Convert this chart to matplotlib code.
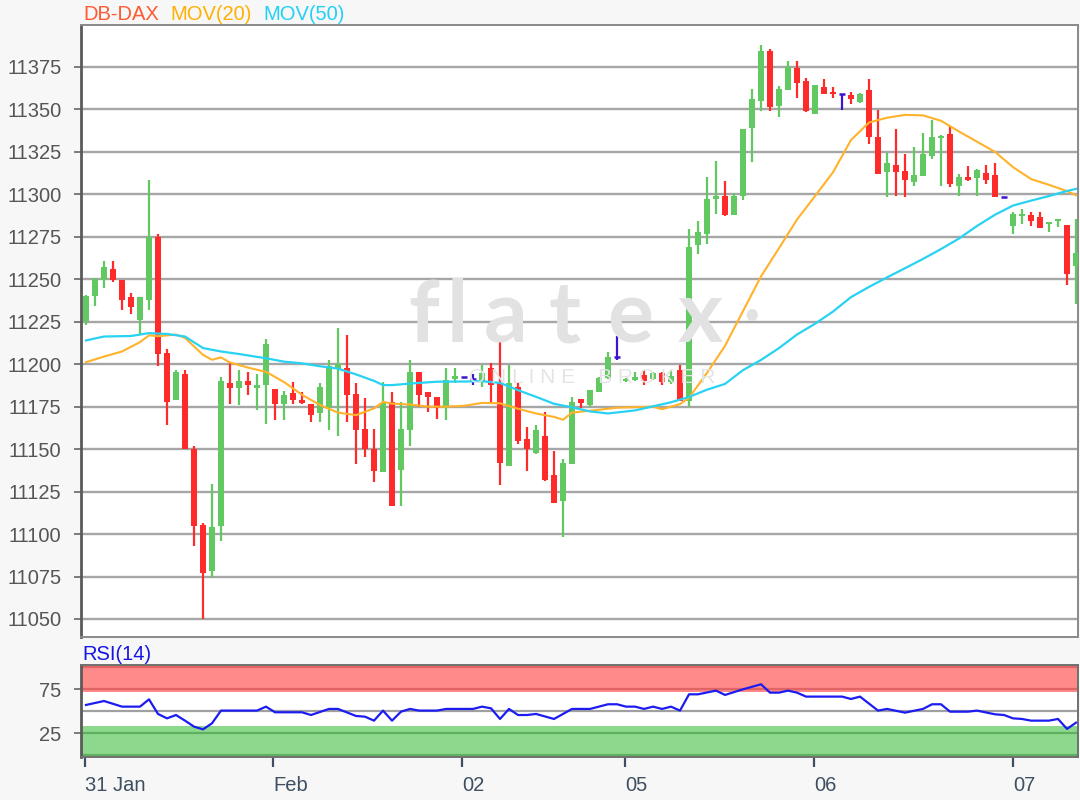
import matplotlib
matplotlib.use("Agg")
import matplotlib.pyplot as plt
import numpy as np

# ---------------- data ----------------
opens = [11225.5, 11240, 11249.5, 11256.3, 11249.5, 11239.6, 11226, 11238, 11275, 11206.6,
         11179, 11194, 11150, 11105.5, 11078.3, 11104.9, 11189, 11186, 11190, 11186,
         11187.5, 11185.5, 11176.7, 11183, 11179, 11176.7, 11171, 11174, 11197, 11197.6,
         11182.4, 11162, 11150.2, 11136.4, 11177.9, 11137.8, 11161, 11195.7, 11183.8, 11180.8,
         11174.5, 11191, 11192.7, 11191, 11189.7, 11197.6, 11189.7, 11140, 11186.7, 11156,
         11148, 11158, 11134.7, 11119.3, 11141.5, 11179.8, 11175.8, 11183.7, 11191.7, 11204.5,
         11190, 11190.7, 11193.7, 11191, 11194.6, 11189.7, 11196.6, 11178.5, 11269.9, 11276.8,
         11297.3, 11299.3, 11288.1, 11299.3, 11339, 11355, 11384.4, 11352.1, 11361.3, 11374.6,
         11366.8, 11347.2, 11363.2, 11360.3, 11359, 11358.3, 11354.4, 11361.2, 11333.7, 11313,
         11317, 11314, 11307.2, 11311, 11322.5, 11333.3, 11335.3, 11305.2, 11310.5, 11309.7,
         11312.5, 11311.1, 11298.3, 11281.6, 11287.5, 11288.1, 11286.5, 11282.6, 11284.6, 11282.2,
         11258]
closes = [11240, 11250, 11257.3, 11249.5, 11238, 11233.7, 11239.6, 11275, 11206, 11178,
          11195.4, 11150, 11104.9, 11077.3, 11104, 11190.4, 11186, 11190, 11187.5, 11187.5,
          11211.7, 11176.7, 11182, 11178.7, 11177, 11170, 11186.8, 11199, 11200, 11181.8,
          11161.5, 11150.2, 11137.4, 11176.9, 11116.6, 11162, 11195.7, 11181.8, 11180.4, 11174.5,
          11190.7, 11193, 11192.7, 11191, 11195, 11187.7, 11142, 11188.7, 11155, 11150,
          11161, 11132, 11118.3, 11142, 11177.8, 11177.2, 11184.7, 11191.7, 11204.5, 11204.5,
          11191.5, 11192.7, 11190.3, 11194.6, 11189.7, 11193, 11178.4, 11268.9, 11277.7, 11297.3,
          11299.3, 11288.1, 11299.3, 11338.4, 11356, 11384.4, 11351.5, 11361.9, 11375, 11365.8,
          11349.2, 11364.4, 11359.3, 11359.3, 11359, 11356.3, 11359.3, 11333.7, 11312.1, 11318.4,
          11313, 11308.5, 11311.5, 11323.5, 11333.7, 11334.1, 11305.8, 11310.1, 11308.5, 11314.1,
          11308.2, 11298.3, 11298.3, 11288.5, 11288.5, 11284.2, 11280.2, 11284, 11285.2, 11253.1,
          11265.3]
highs = [11241, 11250.5, 11261, 11261, 11249.5, 11242, 11239.6, 11308.5, 11276.6, 11209,
         11196.3, 11196.3, 11152, 11106.8, 11129.5, 11192.4, 11201, 11196.3, 11195.4, 11194,
         11215, 11185.5, 11184.5, 11189.5, 11183.5, 11176.7, 11188.8, 11202.6, 11221.3, 11217.4,
         11189, 11180, 11162, 11189.7, 11183.8, 11177.9, 11202.6, 11195.7, 11183.8, 11180.8,
         11197.6, 11197.6, 11192.7, 11194, 11199.6, 11200.6, 11214.5, 11199.6, 11189.7, 11163,
         11164, 11172, 11149, 11144, 11180.8, 11179.8, 11185, 11192.5, 11207, 11216.5,
         11192, 11195.6, 11196.6, 11195.6, 11195.6, 11196.6, 11199.6, 11279.7, 11284.6, 11310.4,
         11319.8, 11308.1, 11300.6, 11338.4, 11361.9, 11387.9, 11385.4, 11363.8, 11378.5, 11378.5,
         11368.7, 11364.4, 11368.1, 11363.2, 11359, 11360.3, 11359.7, 11368.1, 11349.4, 11324.3,
         11338.6, 11323.5, 11327.8, 11336.1, 11343.5, 11334.7, 11340, 11312.1, 11316.4, 11315,
         11317, 11318.4, 11298.3, 11289.5, 11291.4, 11289.5, 11289.5, 11284, 11285.2, 11282.2,
         11285.6]
lows = [11223, 11234, 11245, 11248.5, 11232, 11229.8, 11218, 11232, 11199, 11164,
        11178.7, 11150, 11093, 11050, 11075, 11096, 11176.7, 11175.7, 11181.6, 11173,
        11165, 11167.2, 11167.2, 11176.7, 11176.7, 11166, 11166, 11161, 11158, 11166,
        11141.3, 11145.3, 11130.4, 11136.4, 11116.6, 11116.6, 11152, 11174.9, 11172, 11168,
        11167, 11189, 11192.7, 11188, 11186.7, 11177.8, 11129, 11140, 11153, 11137,
        11147, 11131.4, 11118.3, 11098, 11141.5, 11174.4, 11175, 11183.7, 11191, 11202.5,
        11189.5, 11190, 11187.7, 11190.5, 11187.7, 11188.3, 11178.4, 11175, 11265, 11270.9,
        11288.5, 11287.5, 11288, 11296.7, 11318.8, 11349.2, 11349.2, 11345.6, 11361.3, 11357,
        11348.2, 11347.2, 11359.3, 11356.9, 11349.4, 11353.4, 11353.5, 11329.8, 11312.1, 11298.3,
        11299.3, 11298.3, 11305.2, 11311, 11321, 11305.2, 11304.2, 11299.3, 11307.8, 11299.3,
        11306, 11298.3, 11298.3, 11276.7, 11282.6, 11281.6, 11280.2, 11277.7, 11280.6, 11246.8,
        11235.4]

ma20_idx = [0, 2, 4, 6, 7, 8, 10, 11, 13, 14, 15, 16, 18, 20, 22, 24, 26, 28, 30, 32,
            33, 34, 36, 38, 40, 42, 44, 46, 48, 50, 52, 53, 54, 57, 59, 63, 64, 66, 67, 69,
            71, 73, 75, 77, 79, 81, 83, 85, 87, 89, 91, 93, 95, 97, 99, 101, 103, 105, 107, 109, 110]
ma20_val = [11201.2, 11204.5, 11207.5, 11213, 11217, 11216.5, 11217.4, 11215.5, 11205.5, 11202.6,
            11204, 11201, 11198, 11195.5, 11189.5, 11182, 11176, 11171.5, 11170, 11174,
            11177.8, 11176.8, 11176.3, 11175, 11175, 11175.5, 11177.2, 11177, 11173.8, 11171,
            11169, 11167.3, 11171.5, 11173.2, 11174.4, 11175, 11173.5, 11176.5, 11180.2, 11194.9,
            11210.8, 11231.3, 11251.7, 11268.3, 11285.2, 11299, 11313, 11332, 11342.3, 11345.1,
            11346.8, 11346.5, 11343.3, 11337, 11331, 11325, 11316, 11309, 11305.6, 11301.9, 11299.5]

ma50_idx = [0, 2, 5, 7, 9, 11, 13, 15, 17, 20, 22, 24, 26, 28, 30, 32, 33, 34, 36, 39,
            42, 44, 46, 48, 50, 52, 54, 56, 58, 61, 63, 65, 67, 69, 71, 73, 75, 77, 79, 81,
            83, 85, 87, 89, 91, 93, 95, 97, 99, 101, 103, 105, 107, 109, 110]
ma50_val = [11214, 11216.3, 11216.6, 11218.3, 11217.8, 11216.3, 11209.5, 11207.5, 11206, 11203.5,
            11201.5, 11200.5, 11198.8, 11197.4, 11194, 11190.2, 11187.7, 11187.7, 11188.6, 11189.7,
            11189.8, 11190, 11189, 11184.7, 11180.8, 11176.7, 11174.6, 11172.2, 11171, 11172.8,
            11175.2, 11177.6, 11180.7, 11185, 11188.4, 11196.5, 11202.5, 11209.5, 11217.5, 11223.8,
            11231, 11239.5, 11245.5, 11251.1, 11256.5, 11262, 11267.8, 11274, 11281.4, 11288,
            11293.4, 11296.3, 11299, 11302, 11303.2]

rsi_idx = [0, 2, 4, 6, 7, 8, 9, 10, 11, 12, 13, 14, 15, 19, 20, 21, 24, 25, 27, 28,
           30, 31, 32, 33, 34, 35, 36, 37, 39, 40, 43, 44, 45, 46, 47, 48, 49, 50, 52, 54,
           56, 58, 59, 60, 61, 62, 63, 64, 65, 66, 67, 68, 70, 71, 73, 75, 76, 77, 78, 79,
           80, 84, 85, 86, 88, 89, 91, 93, 94, 95, 96, 98, 99, 101, 102, 103, 104, 105, 107, 108,
           109, 110]
rsi_val = [57.2, 61.7, 55.3, 55.3, 63.6, 47, 42, 45.8, 39.4, 32.6,
           29.5, 36.4, 50.8, 50.8, 55.3, 48.9, 48.9, 45.8, 52.7, 52.7,
           44.7, 43.9, 39.4, 50.8, 39.4, 49.6, 52.7, 50.8, 50.8, 52.7,
           52.7, 55.3, 53.4, 41.3, 52.7, 45.8, 45.8, 47, 41.3, 52.7,
           52.7, 58, 58, 55.3, 55.3, 52.7, 55.3, 52.7, 55.3, 50.8,
           69.3, 69.3, 73.5, 68.6, 75, 80.7, 71.2, 71.2, 73.5, 71.2,
           66.7, 66.7, 64, 66.7, 50.8, 52.7, 48.5, 52.7, 58, 58,
           49.6, 49.6, 50.8, 46.6, 45.8, 42, 41.3, 39.4, 39.4, 41.3,
           30, 37.1]

price_ticks = [11050, 11075, 11100, 11125, 11150, 11175, 11200, 11225, 11250,
               11275, 11300, 11325, 11350, 11375]
rsi_ticks = [25, 75]
date_pos = [-0.1, 20.8, 41.8, 59.9, 80.9, 103.0]
date_labels = ["31 Jan", "Feb", "02", "05", "06", "07"]

# ---------------- styling ----------------
GREEN = "#62c862"
RED = "#ff2b2b"
PURPLE = "#3c14d2"
ORANGE = "#ffb22a"
CYAN = "#28d2f2"
GRID = "#a6a6a6"
TXT = "#555555"
XTXT = "#3d4f60"
FONT = "Liberation Sans"

plt.rcParams["font.family"] = [FONT, "DejaVu Sans"]

W, H = 1080, 800
fig = plt.figure(figsize=(W / 100, H / 100), dpi=100, facecolor="#f7f7f7")

L, R = 81, 1078
ax = fig.add_axes([L / W, 1 - 637 / H, (R - L) / W, (637 - 25) / H])
ax2 = fig.add_axes([L / W, 1 - 757 / H, (R - L) / W, (757 - 665) / H], sharex=ax)

o = np.array(opens); c = np.array(closes); hi = np.array(highs); lo = np.array(lows)
x = np.arange(len(o))
up = c > o
dn = c < o
eq = c == o

ax.set_facecolor("white")
ax.set_xlim(-0.556, 110.22)
ax.set_ylim(11039.4, 11399.7)
ax.set_yticks(price_ticks)
ax.set_yticklabels([str(t) for t in price_ticks])
for t in price_ticks:
    ax.axhline(t, color=GRID, lw=1.7, zorder=1)

# watermark
wm_letters = ["f", "l", "a", "t", "e", "x"]
wm_x = [424, 457, 506, 565, 630, 700]
for ch, px in zip(wm_letters, wm_x):
    fig.text(px / W, 1 - 318 / H, ch, fontsize=62, color="#e2e2e2", ha="center",
             va="center", family="Lato", fontweight="bold", zorder=0.5)
fig.text(752 / W, 1 - 318 / H, "\u2022", fontsize=30, color="#e2e2e2", ha="center",
         va="center", zorder=0.5)
fig.text(592 / W, 1 - 378 / H, "O N L I N E    B R O K E R", fontsize=15, color="#e4e4e4",
         ha="center", va="center", zorder=0.5)

BW = 0.72
ax.vlines(x[up], lo[up], hi[up], color=GREEN, lw=1.6, zorder=3)
ax.bar(x[up], (c - o)[up], bottom=o[up], width=BW, color=GREEN, zorder=3, linewidth=0)
ax.vlines(x[dn], lo[dn], hi[dn], color=RED, lw=1.6, zorder=3)
ax.bar(x[dn], (c - o)[dn], bottom=o[dn], width=BW, color=RED, zorder=3, linewidth=0)
ax.vlines(x[eq], lo[eq], hi[eq], color=PURPLE, lw=1.6, zorder=3)
ax.hlines(c[eq], x[eq] - BW / 2, x[eq] + BW / 2, color=PURPLE, lw=1.8, zorder=3)

ax.plot(ma20_idx, ma20_val, color=ORANGE, lw=1.5, zorder=4)
ax.plot(ma50_idx, ma50_val, color=CYAN, lw=1.6, zorder=4)

ax.tick_params(axis="y", length=5, width=1.2, color="#666666", labelsize=14.5,
               labelcolor=TXT, pad=9)
ax.tick_params(axis="x", bottom=False, labelbottom=False)
for s in ["top", "right", "bottom"]:
    ax.spines[s].set_color("#8a8a8a"); ax.spines[s].set_linewidth(1.4)
ax.spines["left"].set_color("#5a5a5a"); ax.spines["left"].set_linewidth(2)

# title
fig.text(83 / W, 1 - 14 / H, "DB-DAX", color="#ff5a32", fontsize=14.5, va="center")
fig.text(170 / W, 1 - 14 / H, "MOV(20)", color="#ffb000", fontsize=14.5, va="center")
fig.text(263 / W, 1 - 14 / H, "MOV(50)", color="#22d0f6", fontsize=14.5, va="center")

# ---------------- RSI panel ----------------
ax2.set_facecolor("white")
ax2.set_ylim(-1.9, 102.6)
ax2.axhspan(72.3, 102.6, color="#ff8a8a", zorder=1, lw=0)
ax2.axhspan(-1.9, 33.3, color="#8cd88c", zorder=1, lw=0)
ax2.axhline(50, color="#a0a0a0", lw=1.6, zorder=2)
for lvl in (75, 100):
    ax2.axhline(lvl, color="#e06464", lw=1.6, zorder=2)
for lvl in (0, 25):
    ax2.axhline(lvl, color="#5fb05f", lw=1.6, zorder=2)
ax2.plot(rsi_idx, rsi_val, color="#1c1cf2", lw=1.6, zorder=3)
ax2.set_yticks(rsi_ticks)
ax2.set_yticklabels([str(t) for t in rsi_ticks])
ax2.tick_params(axis="y", length=5, width=1.2, color="#666666", labelsize=14.5,
                labelcolor=TXT, pad=9)
ax2.set_xticks(date_pos)
ax2.set_xticklabels(date_labels)
for lab in ax2.get_xticklabels():
    lab.set_horizontalalignment("left")
ax2.tick_params(axis="x", length=7, width=1.6, color=XTXT, labelsize=14.5,
                labelcolor=XTXT, pad=7)
for s in ["top", "right", "bottom"]:
    ax2.spines[s].set_color("#707070"); ax2.spines[s].set_linewidth(1.4)
ax2.spines["left"].set_color("#5a5a5a"); ax2.spines["left"].set_linewidth(2)
fig.text(82 / W, 1 - 654 / H, "RSI(14)", color="#1515e6", fontsize=14.5, va="center")

fig.savefig("out.png", dpi=100, facecolor=fig.get_facecolor())
